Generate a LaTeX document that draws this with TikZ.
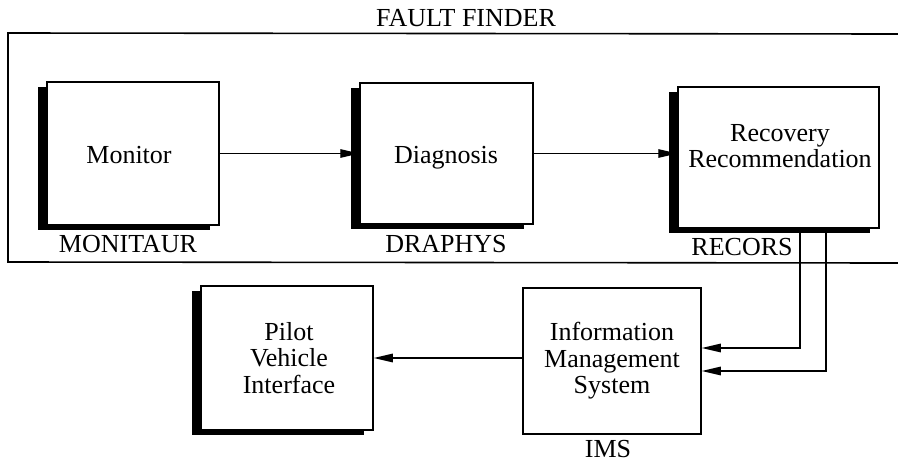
\documentclass[tikz,border=0pt]{standalone}
\usepackage{fontspec}
\setmainfont{Liberation Serif}
\usetikzlibrary{arrows.meta,shadows}
\begin{document}
\begin{tikzpicture}[x=1pt,y=-1pt,
  font=\fontsize{26}{26.5}\selectfont,
  box/.style={draw, line width=1.5pt, fill=white, inner sep=0pt},
  shbox/.style={box, drop shadow={shadow xshift=-9.5pt, shadow yshift=-4.5pt, fill=black, opacity=1}},
  txt/.style={align=center, inner sep=0pt},
  lab/.style={inner sep=0pt, anchor=base},
  arr/.style={line width=1.4pt, -{Triangle[length=19pt,width=8.5pt]}},
  wire/.style={line width=1.4pt}]
\useasboundingbox (0,0) rectangle (898,461);

% enclosing FAULT FINDER frame, open to the right
\node[lab] (fftitle) at (466,26) {FAULT FINDER};
\draw[wire, line width=1.6pt] (898,34) -- (8,33) -- (8,262) -- (898,263);

% upper row of modules
\node[shbox, minimum width=172pt, minimum height=143pt] (mon) at (133,153.5) {};
\node[lab] (montext) at (129,163) {Monitor};
\node[lab] (monlab) at (128,252) {MONITAUR};

\node[shbox, minimum width=173pt, minimum height=141pt] (diag) at (446.5,153.5) {};
\node[lab] (diagtext) at (446,163) {Diagnosis};
\node[lab] (diaglab) at (446,252) {DRAPHYS};

\node[shbox, minimum width=201pt, minimum height=141pt] (rec) at (778.5,157.5) {};
\node[txt] (rectext) at (780,146) {Recovery\\Recommendation};
\node[lab] (reclab) at (742,255) {RECORS};

% lower row
\node[shbox, minimum width=172pt, minimum height=144pt] (pvi) at (287,358) {};
\node[txt] (pvitext) at (289,358) {Pilot\\Vehicle\\Interface};

\node[box, minimum width=178pt, minimum height=146pt] (ims) at (612,361) {};
\node[txt] (imstext) at (612,361) {Information\\Management\\System};
\node[lab] (imslab) at (608,457) {IMS};

% data flow
\draw[arr] (mon.east) -- (diag.west);
\draw[arr] (diag.east) -- (diag.east -| rec.west);
\coordinate (t1) at (800,348);
\coordinate (t2) at (826,371);
\draw[arr] (rec.south -| t1) -- (t1) -- (t1 -| ims.east);
\draw[arr] (rec.south -| t2) -- (t2) -- (t2 -| ims.east);
\draw[arr] (ims.west |- pvi.east) -- (pvi.east);
\end{tikzpicture}
\end{document}
